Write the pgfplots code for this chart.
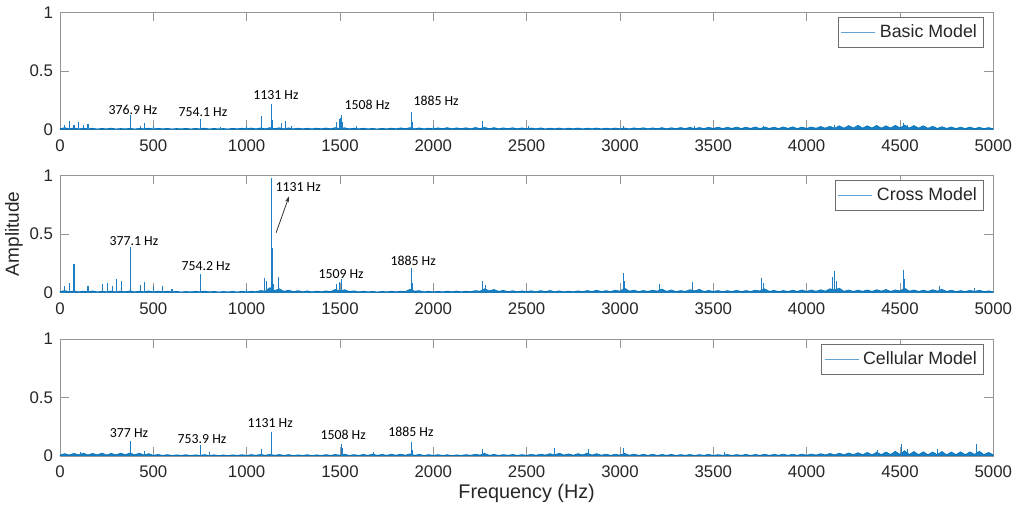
\documentclass[border=0pt]{standalone}
\usepackage{fontspec}
\setmainfont{Liberation Sans}
\newfontfamily\ann{Carlito}
\usepackage{pgfplots}
\pgfplotsset{compat=1.18}
\usetikzlibrary{arrows.meta}

\definecolor{spec}{RGB}{0,114,189}
\definecolor{spike}{RGB}{30,125,195}
\definecolor{axgray}{RGB}{150,150,150}
\definecolor{labgray}{RGB}{38,38,38}
\definecolor{leggray}{RGB}{110,110,110}

\tikzset{annot/.style={font=\ann\fontsize{6.9}{8}\selectfont, text=black}}

\pgfplotsset{
  panel/.style={
    scale only axis, width=466.65pt, height=58.5pt,
    xmin=0, xmax=5000, ymin=0, ymax=1,
    xtick={0,500,...,5000}, ytick={0,0.5,1},
    tick align=inside, major tick length=4.5pt,
    axis line style={draw=axgray}, tick style={draw=axgray},
    every tick label/.append style={font=\fontsize{8.4}{10}\selectfont, text=labgray},
    xticklabel style={yshift=-1.5pt},
    scaled x ticks=false,
    /pgf/number format/1000 sep={},
    /pgf/number format/assume math mode=true,
    legend style={at={(1,1)}, anchor=north east, xshift=-4.5pt, yshift=-2.5pt,
      draw=leggray, line width=0.4pt, font=\fontsize{8.9}{10}\selectfont,
      inner xsep=1.5pt, inner ysep=1.5pt, text=labgray},
    legend image code/.code={\draw[draw=spike!70, line width=0.5pt] (0pt,0pt) -- (17pt,0pt);},
  },
  noise/.style={draw=spec, fill=spec!90, line width=0.3pt, mark=none},
  spikes/.style={spike, ycomb, line width=0.55pt, mark=none, forget plot},
}

\begin{document}
\begin{tikzpicture}
\useasboundingbox (-30pt,64.65pt) rectangle (484.5pt,-191.85pt);

% ---- Basic model
\begin{axis}[panel, name=p1]
\addplot[noise] coordinates {
(0,.005)(25,.014)(50,.004)(75,.012)(100,.003)(125,.010)(150,.004)(175,.009)(200,.003)(225,.008)(250,.004)(275,.010)(300,.003)(325,.007)(350,.004)(375,.009)(400,.003)(425,.008)(450,.005)(475,.010)
(500,.003)(525,.009)(550,.004)(575,.008)(600,.003)(625,.007)(650,.004)(675,.009)(700,.003)(725,.008)(750,.004)(775,.010)(800,.003)(825,.008)(850,.004)(875,.007)(900,.003)(925,.009)(950,.004)(975,.010)
(1000,.005)(1025,.011)(1050,.004)(1075,.012)(1100,.005)(1125,.014)(1150,.006)(1175,.013)(1200,.005)(1225,.012)(1250,.004)(1275,.010)(1300,.005)(1325,.009)(1350,.004)(1375,.010)(1400,.005)(1425,.011)(1450,.005)(1475,.014)
(1500,.006)(1525,.013)(1550,.004)(1575,.010)(1600,.005)(1625,.009)(1650,.004)(1675,.008)(1700,.003)(1725,.009)(1750,.004)(1775,.010)(1800,.005)(1825,.012)(1850,.006)(1875,.014)(1900,.005)(1925,.012)(1950,.004)(1975,.010)
(2000,.005)(2025,.012)(2050,.006)(2075,.014)(2100,.005)(2125,.012)(2150,.006)(2175,.013)(2200,.005)(2225,.015)(2250,.007)(2275,.016)(2300,.006)(2325,.014)(2350,.005)(2375,.012)(2400,.006)(2425,.013)(2450,.005)(2475,.012)
(2500,.006)(2525,.011)(2550,.005)(2575,.012)(2600,.004)(2625,.010)(2650,.005)(2675,.011)(2700,.004)(2725,.010)(2750,.005)(2775,.011)(2800,.004)(2825,.010)(2850,.005)(2875,.011)(2900,.004)(2925,.010)(2950,.005)(2975,.011)
(3000,.005)(3025,.011)(3050,.004)(3075,.012)(3100,.006)(3125,.013)(3150,.005)(3175,.012)(3200,.006)(3225,.014)(3250,.005)(3275,.013)(3300,.006)(3325,.015)(3350,.007)(3375,.016)(3400,.006)(3425,.015)(3450,.007)(3475,.017)
(3500,.008)(3525,.018)(3550,.007)(3575,.017)(3600,.008)(3625,.019)(3650,.007)(3675,.018)(3700,.008)(3725,.020)(3750,.007)(3775,.019)(3800,.008)(3825,.018)(3850,.007)(3875,.020)(3900,.008)(3925,.021)(3950,.007)(3975,.019)
(4000,.008)(4025,.020)(4050,.009)(4075,.024)(4100,.010)(4125,.026)(4150,.009)(4175,.030)(4200,.010)(4225,.032)(4250,.011)(4275,.034)(4300,.010)(4325,.030)(4350,.011)(4375,.033)(4400,.010)(4425,.030)(4450,.011)(4475,.034)
(4500,.012)(4525,.036)(4550,.011)(4575,.032)(4600,.010)(4625,.030)(4650,.009)(4675,.026)(4700,.008)(4725,.022)(4750,.008)(4775,.020)(4800,.007)(4825,.018)(4850,.007)(4875,.019)(4900,.006)(4925,.017)(4950,.006)(4975,.015)(5000,.005)
} \closedcycle;
\addlegendentry{Basic Model}
\addplot[spikes] coordinates {
(25,.04)(50,.07)(75,.04)(100,.065)(125,.04)(150,.045)(377,.12)(430,.03)(455,.05)(500,.03)
(754,.09)(860,.02)(1000,.03)(1080,.11)(1131,.22)(1136,.08)(1185,.05)(1210,.07)(1240,.03)
(1480,.06)(1495,.09)(1502,.1)(1508,.12)(1515,.06)(1590,.03)(1885,.15)(1890,.06)(2000,.03)
(2265,.07)(2510,.03)(3020,.03)(3400,.03)(3770,.03)(4150,.04)(4520,.05)(4540,.04)
};
\node[annot] at (axis cs:391,0.17) {376.9 Hz};
\node[annot] at (axis cs:766,0.144) {754.1 Hz};
\node[annot] at (axis cs:1157,0.29) {1131 Hz};
\node[annot] at (axis cs:1646,0.21) {1508 Hz};
\node[annot] at (axis cs:2015,0.246) {1885 Hz};
\end{axis}

% ---- Cross model
\begin{axis}[panel, name=p2, at={(0,-81.5pt)}, ylabel={Amplitude},
  ylabel style={at={(axis description cs:-0.0493,0.5)}, anchor=center,
    font=\fontsize{9.5}{11}\selectfont, text=labgray}]
\addplot[noise] coordinates {
(0,.006)(25,.015)(50,.005)(75,.012)(100,.004)(125,.010)(150,.005)(175,.012)(200,.004)(225,.009)(250,.005)(275,.011)(300,.004)(325,.010)(350,.005)(375,.012)(400,.004)(425,.010)(450,.005)(475,.012)
(500,.004)(525,.010)(550,.005)(575,.009)(600,.004)(625,.008)(650,.003)(675,.007)(700,.004)(725,.008)(750,.005)(775,.010)(800,.004)(825,.008)(850,.003)(875,.007)(900,.004)(925,.008)(950,.003)(975,.009)
(1000,.004)(1025,.009)(1050,.005)(1075,.015)(1100,.010)(1125,.040)(1150,.015)(1175,.030)(1200,.008)(1225,.018)(1250,.006)(1275,.014)(1300,.005)(1325,.012)(1350,.004)(1375,.010)(1400,.005)(1425,.012)(1450,.006)(1475,.025)
(1500,.012)(1525,.022)(1550,.006)(1575,.012)(1600,.004)(1625,.009)(1650,.004)(1675,.008)(1700,.003)(1725,.008)(1750,.004)(1775,.009)(1800,.004)(1825,.010)(1850,.006)(1875,.025)(1900,.010)(1925,.014)(1950,.004)(1975,.009)
(2000,.004)(2025,.009)(2050,.004)(2075,.010)(2100,.005)(2125,.011)(2150,.004)(2175,.010)(2200,.006)(2225,.014)(2250,.010)(2275,.030)(2300,.012)(2325,.024)(2350,.008)(2375,.016)(2400,.006)(2425,.013)(2450,.005)(2475,.012)
(2500,.006)(2525,.013)(2550,.005)(2575,.014)(2600,.006)(2625,.015)(2650,.005)(2675,.012)(2700,.004)(2725,.010)(2750,.005)(2775,.012)(2800,.006)(2825,.015)(2850,.007)(2875,.018)(2900,.006)(2925,.014)(2950,.007)(2975,.018)
(3000,.010)(3025,.035)(3050,.010)(3075,.018)(3100,.007)(3125,.015)(3150,.008)(3175,.018)(3200,.010)(3225,.028)(3250,.008)(3275,.020)(3300,.007)(3325,.015)(3350,.008)(3375,.022)(3400,.012)(3425,.025)(3450,.007)(3475,.016)
(3500,.007)(3525,.015)(3550,.006)(3575,.014)(3600,.007)(3625,.017)(3650,.006)(3675,.015)(3700,.007)(3725,.018)(3750,.012)(3775,.030)(3800,.008)(3825,.016)(3850,.006)(3875,.015)(3900,.007)(3925,.018)(3950,.008)(3975,.020)
(4000,.008)(4025,.020)(4050,.009)(4075,.022)(4100,.010)(4125,.030)(4150,.020)(4175,.035)(4200,.009)(4225,.020)(4250,.008)(4275,.018)(4300,.009)(4325,.020)(4350,.008)(4375,.022)(4400,.010)(4425,.024)(4450,.008)(4475,.020)
(4500,.012)(4525,.035)(4550,.010)(4575,.020)(4600,.008)(4625,.018)(4650,.008)(4675,.022)(4700,.010)(4725,.025)(4750,.008)(4775,.018)(4800,.006)(4825,.014)(4850,.007)(4875,.016)(4900,.008)(4925,.018)(4950,.006)(4975,.012)(5000,.005)
} \closedcycle;
\addlegendentry{Cross Model}
\addplot[spikes] coordinates {
(25,.05)(50,.08)(75,.245)(150,.055)(230,.07)(255,.08)(280,.05)(305,.11)(330,.1)(377,.39)
(430,.06)(455,.09)(500,.05)(550,.055)(600,.03)(754,.16)(1000,.03)(1095,.12)(1105,.1)(1131,.98)
(1136,.38)(1145,.07)(1170,.13)(1480,.07)(1495,.09)(1509,.11)(1885,.205)(1890,.08)(2265,.1)(2280,.06)
(3020,.165)(3025,.1)(3210,.075)(3390,.09)(3760,.12)(3770,.08)(4140,.13)(4150,.18)(4160,.1)
(4520,.19)(4525,.11)(4710,.055)(4900,.035)
};
\node[annot] at (axis cs:396,0.44) {377.1 Hz};
\node[annot] at (axis cs:782,0.22) {754.2 Hz};
\node[annot] at (axis cs:1276,0.90) {1131 Hz};
\node[annot] at (axis cs:1506,0.16) {1509 Hz};
\node[annot] at (axis cs:1892,0.265) {1885 Hz};
\draw[-{Stealth[length=3pt,width=2pt]}, line width=0.4pt, black!80]
  (axis cs:1158,0.51) -- (axis cs:1227,0.82);
\end{axis}

% ---- Cellular model
\begin{axis}[panel, name=p3, at={(0,-163.35pt)}, xlabel={Frequency (Hz)},
  xlabel style={at={(axis description cs:0.5,-0.316)}, anchor=center,
    font=\fontsize{9.9}{11}\selectfont, text=labgray}]
\addplot[noise] coordinates {
(0,.008)(25,.020)(50,.009)(75,.022)(100,.010)(125,.024)(150,.009)(175,.022)(200,.010)(225,.025)(250,.009)(275,.022)(300,.010)(325,.024)(350,.011)(375,.026)(400,.010)(425,.024)(450,.009)(475,.020)
(500,.006)(525,.014)(550,.005)(575,.012)(600,.004)(625,.010)(650,.005)(675,.011)(700,.004)(725,.010)(750,.005)(775,.012)(800,.004)(825,.010)(850,.004)(875,.009)(900,.004)(925,.010)(950,.005)(975,.011)
(1000,.005)(1025,.012)(1050,.006)(1075,.014)(1100,.006)(1125,.015)(1150,.006)(1175,.013)(1200,.005)(1225,.012)(1250,.004)(1275,.010)(1300,.005)(1325,.011)(1350,.004)(1375,.010)(1400,.005)(1425,.012)(1450,.005)(1475,.013)
(1500,.007)(1525,.016)(1550,.005)(1575,.012)(1600,.005)(1625,.013)(1650,.006)(1675,.016)(1700,.006)(1725,.014)(1750,.006)(1775,.015)(1800,.007)(1825,.016)(1850,.007)(1875,.018)(1900,.006)(1925,.014)(1950,.005)(1975,.012)
(2000,.005)(2025,.012)(2050,.005)(2075,.011)(2100,.004)(2125,.010)(2150,.005)(2175,.012)(2200,.006)(2225,.015)(2250,.008)(2275,.022)(2300,.006)(2325,.014)(2350,.005)(2375,.012)(2400,.006)(2425,.013)(2450,.005)(2475,.012)
(2500,.006)(2525,.014)(2550,.007)(2575,.016)(2600,.008)(2625,.020)(2650,.009)(2675,.024)(2700,.008)(2725,.018)(2750,.007)(2775,.020)(2800,.009)(2825,.025)(2850,.008)(2875,.020)(2900,.007)(2925,.016)(2950,.006)(2975,.015)
(3000,.008)(3025,.022)(3050,.007)(3075,.016)(3100,.006)(3125,.014)(3150,.006)(3175,.015)(3200,.005)(3225,.013)(3250,.006)(3275,.014)(3300,.005)(3325,.012)(3350,.006)(3375,.013)(3400,.005)(3425,.012)(3450,.006)(3475,.014)
(3500,.005)(3525,.012)(3550,.006)(3575,.013)(3600,.005)(3625,.012)(3650,.006)(3675,.014)(3700,.005)(3725,.013)(3750,.006)(3775,.015)(3800,.006)(3825,.014)(3850,.007)(3875,.016)(3900,.006)(3925,.015)(3950,.007)(3975,.016)
(4000,.007)(4025,.017)(4050,.008)(4075,.020)(4100,.009)(4125,.022)(4150,.010)(4175,.024)(4200,.010)(4225,.026)(4250,.011)(4275,.028)(4300,.012)(4325,.030)(4350,.011)(4375,.032)(4400,.012)(4425,.034)(4450,.013)(4475,.040)
(4500,.014)(4525,.045)(4550,.013)(4575,.038)(4600,.012)(4625,.036)(4650,.011)(4675,.034)(4700,.012)(4725,.038)(4750,.011)(4775,.034)(4800,.012)(4825,.036)(4850,.011)(4875,.035)(4900,.014)(4925,.040)(4950,.012)(4975,.030)(5000,.010)
} \closedcycle;
\addlegendentry{Cellular Model}
\addplot[spikes] coordinates {
(110,.03)(377,.13)(455,.04)(754,.09)(800,.03)(1080,.06)(1131,.205)(1508,.1)(1515,.07)(1680,.03)
(1885,.12)(1890,.05)(2265,.06)(2650,.07)(2830,.06)(3020,.07)(3560,.03)(4380,.05)(4510,.1)(4540,.06)(4700,.06)(4910,.105)
};
\node[annot] at (axis cs:370,0.197) {377 Hz};
\node[annot] at (axis cs:761,0.145) {753.9 Hz};
\node[annot] at (axis cs:1126,0.28) {1131 Hz};
\node[annot] at (axis cs:1517,0.18) {1508 Hz};
\node[annot] at (axis cs:1880,0.205) {1885 Hz};
\end{axis}
\end{tikzpicture}
\end{document}
